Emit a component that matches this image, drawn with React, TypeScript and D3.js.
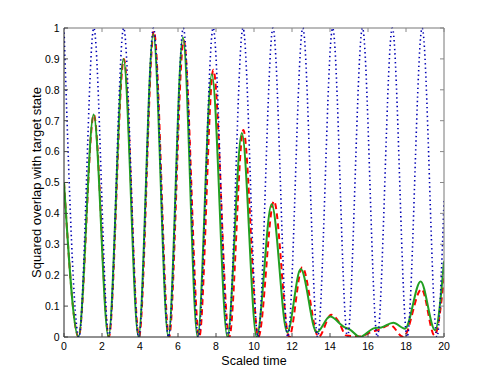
import React from "react";
import * as d3 from "d3";

// Blue dotted reference curve (peaks and zeros)
const blueT = [0, 0.79, 1.57, 2.36, 3.14, 3.93, 4.71, 5.5, 6.28, 7.07, 7.85, 8.64, 9.42, 10.21, 11.0, 11.78, 12.57, 13.35, 14.14, 14.92, 15.71, 16.49, 17.28, 18.06, 18.85, 19.63, 20];
const blueV = [1, 0, 1, 0, 1, 0, 1, 0, 1, 0, 1, 0, 1, 0, 1, 0, 1, 0, 1, 0, 1, 0, 1, 0, 1, 0, 0.44];

// Red dashed curve
const redT = [0, 0.77, 1.57, 2.36, 3.15, 3.95, 4.73, 5.53, 6.3, 7.12, 7.86, 8.7, 9.44, 10.23, 11.05, 11.85, 12.54, 13.4, 14.06, 14.45, 14.85, 15.6, 16.2, 16.6, 17.16, 17.86, 18.82, 19.5, 20];
const redV = [0.5, 0, 0.72, 0, 0.9, 0, 0.99, 0, 0.96, 0, 0.865, 0, 0.67, 0, 0.44, 0, 0.226, 0, 0.072, 0.05, 0.005, 0.002, 0.017, 0.024, 0.039, 0, 0.155, 0.005, 0.19];

// Green solid curve
const greenT = [0, 0.76, 1.56, 2.34, 3.13, 3.92, 4.7, 5.49, 6.26, 7.03, 7.78, 8.6, 9.36, 10.14, 10.93, 11.75, 12.46, 13.3, 14.0, 14.75, 15.05, 15.58, 16.3, 16.7, 17.33, 17.95, 18.77, 19.53, 20];
const greenV = [0.5, 0, 0.72, 0, 0.9, 0, 0.98, 0, 0.97, 0, 0.85, 0, 0.66, 0, 0.43, 0.015, 0.22, 0.015, 0.066, 0.032, 0.024, 0, 0.028, 0.031, 0.046, 0.027, 0.18, 0.022, 0.245];

const xTicks = [0, 2, 4, 6, 8, 10, 12, 14, 16, 18, 20];
const yTicks = [0, 0.1, 0.2, 0.3, 0.4, 0.5, 0.6, 0.7, 0.8, 0.9, 1];

const W = 491, H = 380;
const L = 64, R = 444, T = 28, B = 337;

export default function App() {
  const x = d3.scaleLinear().domain([0, 20]).range([L, R]);
  const y = d3.scaleLinear().domain([0, 1]).range([B, T]);
  const line = d3.line<[number, number]>().x(d => x(d[0])).y(d => y(d[1])).curve(d3.curveMonotoneX);
  const zip = (a: number[], b: number[]) => a.map((t, i) => [t, b[i]] as [number, number]);
  const font = "'Liberation Sans', Arial, Helvetica, sans-serif";
  const tl = 4;
  return (
    <svg width={W} height={H} style={{ position: "fixed", left: 0, top: 0, background: "#fff" }} fontFamily={font}>
      <rect x={0} y={0} width={W} height={H} fill="#fff" />
      <defs>
        <clipPath id="clip"><rect x={L} y={T - 2} width={R - L} height={B - T + 2} /></clipPath>
      </defs>
      <g clipPath="url(#clip)">
        <path d={line(zip(redT, redV)) || ""} fill="none" stroke="#ff0000" strokeWidth={2} strokeDasharray="6 4" />
        <path d={line(zip(greenT, greenV)) || ""} fill="none" stroke="#22a022" strokeWidth={2} />
        <path d={line(zip(blueT, blueV)) || ""} fill="none" stroke="#0000b4" strokeWidth={1.6} strokeDasharray="1.4 3" />
      </g>
      {/* box */}
      <line x1={L} x2={R} y1={T} y2={T} stroke="#777" strokeWidth={1} />
      <line x1={R} x2={R} y1={T} y2={B} stroke="#777" strokeWidth={1} />
      <line x1={L} x2={R} y1={B} y2={B} stroke="#222" strokeWidth={1} />
      <line x1={L} x2={L} y1={T} y2={B} stroke="#222" strokeWidth={1} />
      {xTicks.map(t => (
        <g key={"x" + t}>
          <line x1={x(t)} x2={x(t)} y1={B} y2={B - tl} stroke="#444" />
          <line x1={x(t)} x2={x(t)} y1={T} y2={T + tl} stroke="#888" />
          <text x={x(t)} y={349.5} fontSize={10.5} textAnchor="middle" fill="#000">{t}</text>
        </g>
      ))}
      {yTicks.map(t => (
        <g key={"y" + t}>
          <line x1={L} x2={L + tl} y1={y(t)} y2={y(t)} stroke="#444" />
          <line x1={R} x2={R - tl} y1={y(t)} y2={y(t)} stroke="#888" />
          <text x={59.5} y={y(t) + 3.8} fontSize={10.5} textAnchor="end" fill="#000">{String(t)}</text>
        </g>
      ))}
      <text x={(L + R) / 2} y={364.5} fontSize={12.5} textAnchor="middle" fill="#000">Scaled time</text>
      <text transform={`translate(41,${(T + B) / 2}) rotate(-90)`} fontSize={13} textAnchor="middle" fill="#000">Squared overlap with target state</text>
    </svg>
  );
}
